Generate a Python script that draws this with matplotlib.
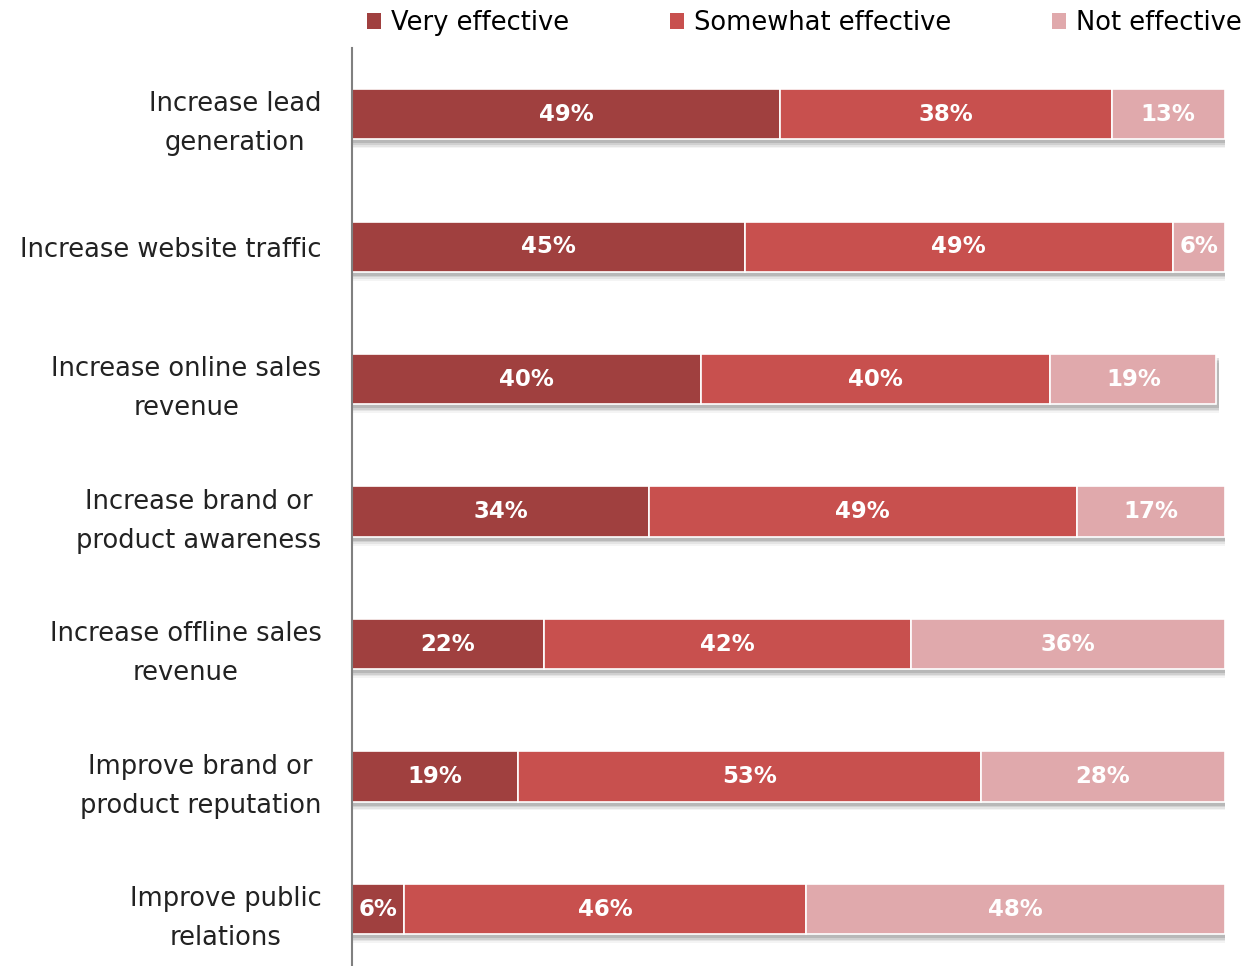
import numpy as np
import matplotlib.pyplot as plt
from matplotlib.patches import Patch

plt.rcParams['font.family'] = ['DejaVu Sans']

categories = ['Increase lead\ngeneration', 'Increase website traffic',
              'Increase online sales\nrevenue', 'Increase brand or\nproduct awareness',
              'Increase offline sales\nrevenue', 'Improve brand or\nproduct reputation',
              'Improve public\nrelations']
very = [49, 45, 40, 34, 22, 19, 6]
somewhat = [38, 49, 40, 49, 42, 53, 46]
not_eff = [13, 6, 19, 17, 36, 28, 48]
series = ['Very effective', 'Somewhat effective', 'Not effective']
colors = ['#A0403F', '#C8504E', '#E0A9AC']

W, H = 1251, 966
fig = plt.figure(figsize=(W / 100, H / 100), dpi=100)
ax = fig.add_axes([352 / W, 0, (1225 - 352) / W, (966 - 48) / H])

y = np.arange(len(categories))
h = 0.38
totals = np.array(very) + np.array(somewhat) + np.array(not_eff)

# soft drop shadow under each bar
for k, a in enumerate([0.16, 0.12, 0.09, 0.06]):
    ax.barh(y + 0.03 + k * 0.012, totals + 0.35, height=h, left=0,
            color='#444444', alpha=a, zorder=1, linewidth=0)

left = np.zeros(len(categories))
for vals, col in zip([very, somewhat, not_eff], colors):
    vals = np.array(vals)
    ax.barh(y, vals, height=h, left=left, color=col, edgecolor='white',
            linewidth=1.2, zorder=2)
    for yi, l, v in zip(y, left, vals):
        ax.text(l + v / 2, yi, f'{v}%', ha='center', va='center',
                color='white', fontsize=16.5, fontweight='bold', zorder=3)
    left += vals

ax.set_xlim(0, 100)
ax.set_ylim(6.43, -0.5)
ax.set_yticks(y)
ax.set_yticklabels(categories, fontsize=18.5, multialignment='center',
                   color='#222222', linespacing=1.65)
ax.tick_params(axis='y', length=0, pad=22)
ax.set_xticks([])
for s in ['top', 'right', 'bottom']:
    ax.spines[s].set_visible(False)
ax.spines['left'].set_color('#808080')
ax.spines['left'].set_linewidth(1.5)

# legend
handles = [Patch(facecolor=c, edgecolor='none') for c in colors]
fig.legend(handles, series, loc='upper left', ncol=3, frameon=False,
           bbox_to_anchor=(367 / W, 1 - 10 / H), fontsize=18.5,
           handlelength=0.55, handleheight=0.55, handletextpad=0.4,
           columnspacing=3.9, borderpad=0, borderaxespad=0)

fig.savefig('out.png', dpi=100)
